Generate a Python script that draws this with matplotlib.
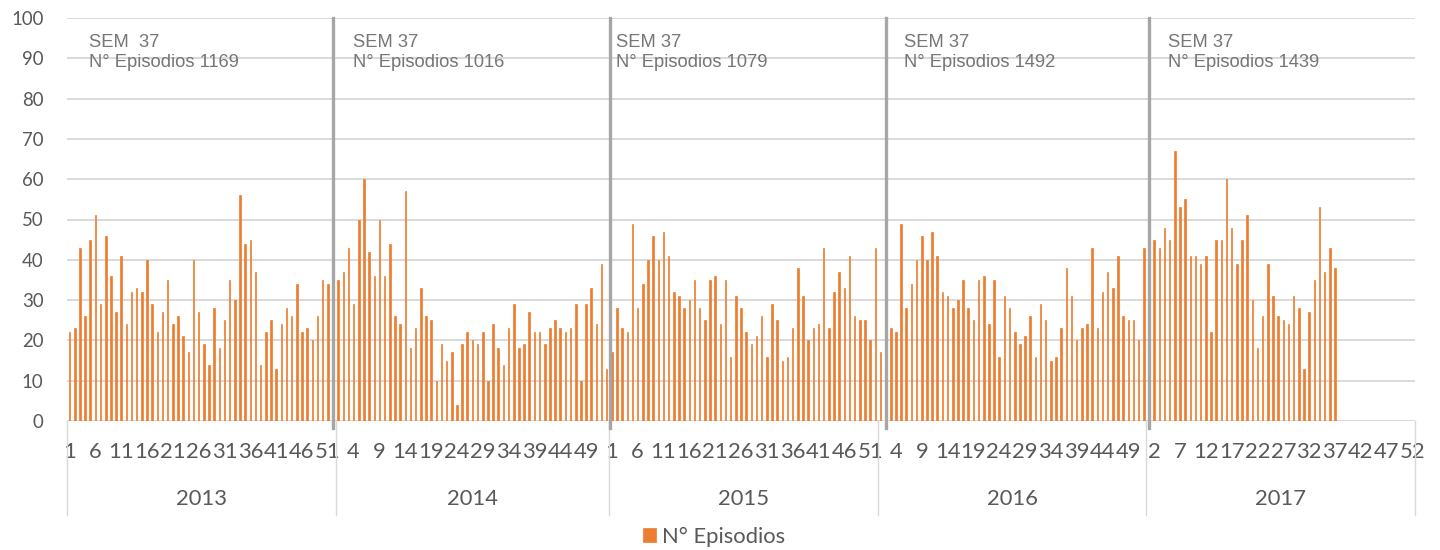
import numpy as np
import matplotlib
matplotlib.use('Agg')
import matplotlib.pyplot as plt
from matplotlib.transforms import blended_transform_factory

# data: weekly episode counts per year
years = ['2013', '2014', '2015', '2016', '2017']
weeks_per_year = [52, 53, 52, 52, 52]

ep_2013 = [22, 23, 43, 26, 45, 51, 29, 46, 36, 27, 41, 24, 32, 33, 32, 40, 29, 22, 27, 35,
           24, 26, 21, 17, 40, 27, 19, 14, 28, 18, 25, 35, 30, 56, 44, 45, 37, 14, 22, 25,
           13, 24, 28, 26, 34, 22, 23, 20, 26, 35, 34, 30]
ep_2014 = [35, 37, 43, 29, 50, 60, 42, 36, 50, 36, 44, 26, 24, 57, 18, 23, 33, 26, 25, 10,
           19, 15, 17, 4, 19, 22, 20, 19, 22, 10, 24, 18, 14, 23, 29, 18, 19, 27, 22, 22,
           19, 23, 25, 23, 22, 23, 29, 10, 29, 33, 24, 39, 13]
ep_2015 = [17, 28, 23, 22, 49, 28, 34, 40, 46, 40, 47, 41, 32, 31, 28, 30, 35, 28, 25, 35,
           36, 24, 35, 16, 31, 28, 22, 19, 21, 26, 16, 29, 25, 15, 16, 23, 38, 31, 20, 23,
           24, 43, 23, 32, 37, 33, 41, 26, 25, 25, 20, 43]
ep_2016 = [17, 28, 23, 22, 49, 28, 34, 40, 46, 40, 47, 41, 32, 31, 28, 30, 35, 28, 25, 35,
           36, 24, 35, 16, 31, 28, 22, 19, 21, 26, 16, 29, 25, 15, 16, 23, 38, 31, 20, 23,
           24, 43, 23, 32, 37, 33, 41, 26, 25, 25, 20, 43]
ep_2017 = [42, 45, 43, 48, 45, 67, 53, 55, 41, 41, 39, 41, 22, 45, 45, 60, 48, 39, 45, 51,
           30, 18, 26, 39, 31, 26, 25, 24, 31, 28, 13, 27, 35, 53, 37, 43, 38]

sem_labels = ['SEM  37', 'SEM 37', 'SEM 37', 'SEM 37', 'SEM 37']
totals = [1169, 1016, 1079, 1492, 1439]

series = [ep_2013, ep_2014, ep_2015, ep_2016, ep_2017]
values = []
week_labels = []
for vals, n in zip(series, weeks_per_year):
    values += vals + [np.nan] * (n - len(vals))
    week_labels += [str(w) for w in range(1, n + 1)]
values = np.array(values, dtype=float)
x = np.arange(len(values))

plt.rcParams['font.family'] = 'Lato'
TXT = '#595959'
ORANGE = '#ED7D31'

fig = plt.figure(figsize=(14.4, 5.5), dpi=100)
ax = fig.add_axes([67 / 1440, 129 / 550, 1348 / 1440, 403 / 550])

ax.bar(x, values, width=0.3, color=ORANGE, edgecolor=ORANGE, linewidth=0.5,
       label='N° Episodios', zorder=2)

ax.set_xlim(-0.5, len(values) - 0.5)
ax.set_ylim(0, 100)
ax.set_yticks(range(0, 101, 10))
ax.yaxis.grid(True, color='#D9D9D9', lw=1.4)
ax.set_axisbelow(True)
for s in ax.spines.values():
    s.set_visible(False)

ticks = x[::5]
ax.set_xticks(ticks)
ax.set_xticklabels([week_labels[i] for i in ticks])
ax.tick_params(axis='y', length=0, pad=17, labelsize=13.4, labelcolor=TXT)
ax.tick_params(axis='x', length=0, pad=15, labelsize=15.8, labelcolor=TXT)

# year group separators and labels under the axis
trans = blended_transform_factory(ax.transData, ax.transAxes)
bounds = np.concatenate([[0], np.cumsum(weeks_per_year)]) - 0.5
for b in bounds:
    ax.plot([b, b], [0, -0.233], transform=trans, color='#D9D9D9', lw=1, clip_on=False)
for i, yr in enumerate(years):
    ax.text((bounds[i] + bounds[i + 1]) / 2, -0.194, yr, transform=trans,
            ha='center', va='center', fontsize=15.8, color=TXT)

# thick gray lines between years
sep_x = [51.0, 104.55, 158.0, 208.95]
for sx in sep_x:
    ax.plot([sx, sx], [-1.7, 100], color='#A6A6A6', lw=2.4, clip_on=False, zorder=3)

# week 37 annotations
text_x = [3.7, 54.8, 105.8, 161.6, 212.7]
for tx, sem, tot in zip(text_x, sem_labels, totals):
    ax.text(tx, 92.9, sem, fontfamily='Liberation Sans', fontsize=13.2,
            color='#767676', va='baseline', ha='left')
    ax.text(tx, 87.9, f'N° Episodios {tot}', fontfamily='Liberation Sans', fontsize=13.2,
            color='#767676', va='baseline', ha='left')

leg = fig.legend(loc='center', bbox_to_anchor=(714 / 1440, 1 - 537 / 550), frameon=False,
                 fontsize=15.8, handlelength=0.6, handleheight=0.6, handletextpad=0.3)
for t in leg.get_texts():
    t.set_color(TXT)

fig.savefig('out.png', dpi=100)
